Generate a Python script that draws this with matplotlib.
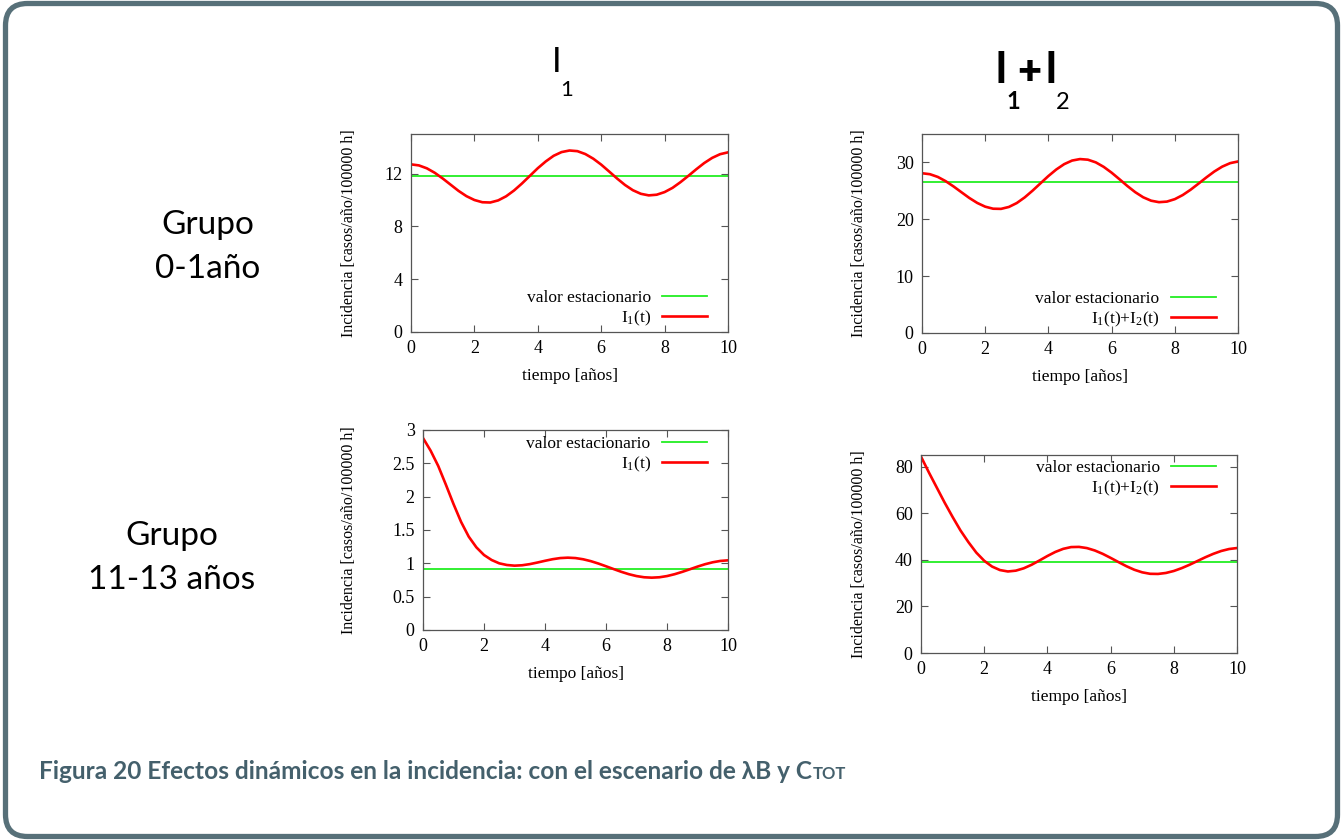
import numpy as np
import matplotlib
matplotlib.use('Agg')
import matplotlib.pyplot as plt
from matplotlib.patches import FancyBboxPatch
from matplotlib.ticker import FormatStrFormatter

plt.rcParams['font.family'] = ['Liberation Serif', 'DejaVu Serif']
plt.rcParams['mathtext.fontset'] = 'custom'
plt.rcParams['mathtext.rm'] = 'Liberation Serif'
plt.rcParams['mathtext.it'] = 'Liberation Serif:italic'

# datos (paso 0.25 años)
tiempo = np.arange(0, 10.01, 0.25)

i1_grupo0 = [12.70, 12.62, 12.40, 12.06, 11.63, 11.16, 10.69, 10.29, 10.00, 9.83,
             9.81, 9.97, 10.28, 10.72, 11.25, 11.83, 12.41, 12.92, 13.35, 13.63,
             13.75, 13.70, 13.48, 13.13, 12.68, 12.16, 11.63, 11.14, 10.74, 10.47,
             10.35, 10.40, 10.60, 10.92, 11.35, 11.83, 12.33, 12.80, 13.19, 13.47,
             13.61]
i12_grupo0 = [28.10, 27.93, 27.45, 26.70, 25.77, 24.75, 23.74, 22.87, 22.22, 21.86,
              21.83, 22.17, 22.86, 23.85, 25.04, 26.33, 27.61, 28.76, 29.70, 30.33,
              30.59, 30.48, 30.01, 29.22, 28.20, 27.04, 25.85, 24.76, 23.87, 23.27,
              23.01, 23.11, 23.54, 24.26, 25.20, 26.27, 27.37, 28.40, 29.26, 29.87,
              30.17]
i1_grupo11 = [2.88, 2.69, 2.46, 2.18, 1.89, 1.62, 1.40, 1.24, 1.125, 1.05,
              1.00, 0.975, 0.965, 0.971, 0.988, 1.012, 1.038, 1.062, 1.079, 1.085,
              1.079, 1.061, 1.033, 0.997, 0.956, 0.914, 0.873, 0.837, 0.809, 0.791,
              0.785, 0.791, 0.809, 0.837, 0.872, 0.911, 0.951, 0.987, 1.016, 1.036,
              1.045]
i12_grupo11 = [84.3, 77.5, 71.0, 64.5, 58.4, 52.6, 47.6, 43.1, 39.6, 37.1,
               35.6, 35.0, 35.35, 36.35, 37.88, 39.72, 41.64, 43.38, 44.71, 45.47,
               45.55, 45.04, 44.01, 42.57, 40.84, 39.02, 37.26, 35.74, 34.63, 34.00,
               33.94, 34.36, 35.21, 36.43, 37.89, 39.50, 41.11, 42.57, 43.79, 44.64,
               45.06]

est_i1_grupo0 = 11.8
est_i12_grupo0 = 26.5
est_i1_grupo11 = 0.91
est_i12_grupo11 = 39.0

grupos = ['Grupo\n0-1año', 'Grupo\n11-13 años']
leyenda_i1 = r'$\mathrm{I_1(t)}$'
leyenda_i12 = r'$\mathrm{I_1(t){+}I_2(t)}$'

W, H = 1343, 840
fig = plt.figure(figsize=(W / 100, H / 100), dpi=100)


def px(x, y):
    return x / W, 1 - y / H


def panel(rect, serie, est, etiqueta, ylim, yticks, fmt, ylab_x, leg_loc, leg_anchor):
    ax = fig.add_axes(rect)
    ax.axhline(est, color='#22ee22', lw=1.3, label='valor estacionario')
    ax.plot(tiempo, serie, color='#ff0000', lw=1.9, label=etiqueta)
    ax.set_xlim(0, 10)
    ax.set_ylim(*ylim)
    ax.set_xticks(range(0, 11, 2))
    ax.set_yticks(yticks)
    ax.yaxis.set_major_formatter(FormatStrFormatter(fmt))
    ax.tick_params(direction='in', length=5, width=0.8, top=True, right=True,
                   labelsize=13, pad=6, color='#555555')
    for s in ax.spines.values():
        s.set_color('#555555')
        s.set_linewidth(0.9)
    ax.set_xlabel('tiempo [años]', fontsize=12.5)
    ax.set_ylabel('Incidencia [casos/año/100000 h]', fontsize=11.5)
    ax.xaxis.set_label_coords(0.5, -0.18)
    ax.yaxis.set_label_coords(ylab_x, 0.5)
    ax.legend(loc=leg_loc, bbox_to_anchor=leg_anchor, frameon=False, markerfirst=False,
              fontsize=12.5, handlelength=2.6, handletextpad=0.65, labelspacing=0.15,
              borderpad=0, borderaxespad=0)
    return ax


panel([*px(411, 332), 317 / W, 198 / H], i1_grupo0, est_i1_grupo0, leyenda_i1,
      (0, 15), [0, 4, 8, 12], '%g', -0.170, 'lower right', (0.934, 0.02))
panel([*px(922, 333), 316 / W, 199 / H], i12_grupo0, est_i12_grupo0, leyenda_i12,
      (0, 35), [0, 10, 20, 30], '%g', -0.174, 'lower right', (0.930, 0.02))
panel([*px(423, 630), 305 / W, 200 / H], i1_grupo11, est_i1_grupo11, leyenda_i1,
      (0, 3), [0, 0.5, 1, 1.5, 2, 2.5, 3], '%g', -0.216, 'upper right', (0.931, 0.97))
panel([*px(921, 653), 316 / W, 198 / H], i12_grupo11, est_i12_grupo11, leyenda_i12,
      (0, 85), [0, 20, 40, 60, 80], '%g', -0.171, 'upper right', (0.934, 0.975))

sans = ['Lato', 'Open Sans', 'DejaVu Sans']

# etiquetas de filas
fig.text(*px(208, 247), grupos[0], family=sans, fontsize=24, ha='center', va='center',
         linespacing=1.55)
fig.text(*px(172, 558), grupos[1], family=sans, fontsize=24, ha='center', va='center',
         linespacing=1.55)

# titulos de columnas
fig.text(*px(552, 72), 'I', family=sans, fontsize=25, va='baseline')
fig.text(*px(560, 96), '1', family=sans, fontsize=16, va='baseline')
fig.text(*px(994, 83), 'I', family=sans, fontsize=31, weight='bold', va='baseline')
fig.text(*px(1029, 84), '+', family=sans, fontsize=30, weight='heavy', va='baseline', ha='center')
fig.text(*px(1045, 83), 'I', family=sans, fontsize=31, weight='bold', va='baseline')
fig.text(*px(1006, 109), '1', family=sans, fontsize=17, weight='bold', va='baseline')
fig.text(*px(1056, 109), '2', family=sans, fontsize=17, va='baseline')

# pie de figura
color_pie = '#44606c'
pie = fig.text(*px(39, 779), 'Figura 20 Efectos dinámicos en la incidencia: con el escenario de λB y C',
               family=sans, fontsize=17.6, weight='bold', color=color_pie, va='baseline')
fig.canvas.draw()
bb = pie.get_window_extent(fig.canvas.get_renderer())
fig.text(bb.x1 / W + 0.0005, 1 - 779 / H, 'TOT', family=sans, fontsize=12, weight='bold',
         color=color_pie, va='baseline')

# marco redondeado
marco = FancyBboxPatch((0.055, 0.035), W / 100 - 0.11, H / 100 - 0.07,
                       boxstyle='round,pad=0,rounding_size=0.22',
                       transform=fig.dpi_scale_trans, fill=False,
                       edgecolor='#577079', linewidth=3.8)
fig.patches.append(marco)

fig.savefig('out.png', dpi=100)
